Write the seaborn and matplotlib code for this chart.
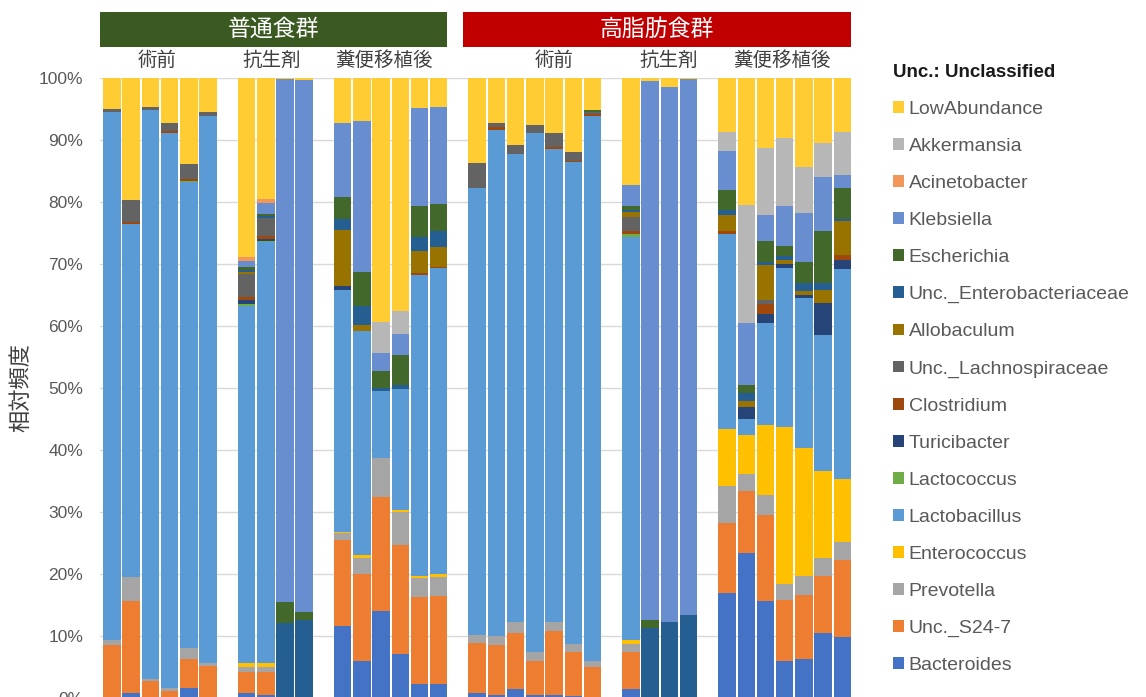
import numpy as np
import pandas as pd
import matplotlib
matplotlib.use("Agg")
import matplotlib.pyplot as plt
import matplotlib.transforms as mtransforms
from matplotlib.patches import Patch, Rectangle
import seaborn as sns

# ---------------- data ----------------
groups = ["普通食群", "高脂肪食群"]
phases = ["術前", "抗生剤", "糞便移植後"]
n_per_block = [6, 4, 6, 7, 4, 7]   # N-術前, N-抗生剤, N-糞便移植後, H-術前, H-抗生剤, H-糞便移植後

taxa = ["Bacteroides", "Unc._S24-7", "Prevotella", "Enterococcus", "Lactobacillus",
        "Lactococcus", "Turicibacter", "Clostridium", "Unc._Lachnospiraceae",
        "Allobaculum", "Unc._Enterobacteriaceae", "Escherichia", "Klebsiella",
        "Acinetobacter", "Akkermansia", "LowAbundance"]

colors = ["#4472C4", "#ED7D31", "#A5A5A5", "#FFC000", "#5B9BD5",
          "#70AD47", "#264478", "#9E480E", "#636363",
          "#997300", "#255E91", "#43682B", "#698ED0",
          "#F1975A", "#B7B7B7", "#FFCD33"]

bacteroides = [0, 0.9, 0, 0, 1.7, 0,  0.9, 0.6, 0, 0,  11.7, 6.1, 14.1, 7.1, 2.4, 2.4,
               0.9, 0.6, 1.5, 0.6, 0.6, 0.4, 0.3,  1.5, 0, 0, 0,  17.0, 23.4, 15.7, 6.1, 6.3, 10.6, 9.9]
s24_7 = [8.7, 14.8, 2.9, 1.2, 4.6, 5.3,  3.3, 3.7, 0, 0,  13.8, 14.0, 18.3, 17.7, 13.9, 14.1,
         8.1, 8.1, 9.1, 5.5, 10.2, 7.1, 4.8,  6.0, 0, 0, 0,  11.3, 10.1, 13.8, 9.8, 10.4, 9.2, 12.5]
prevotella = [0.8, 3.9, 0.3, 0.5, 1.8, 0.4,  0.8, 0.7, 0, 0,  1.1, 2.5, 6.4, 5.2, 3.1, 3.1,
              1.3, 1.4, 1.8, 1.4, 1.6, 1.3, 1.0,  1.3, 0, 0, 0,  5.9, 2.6, 3.3, 2.5, 3.1, 2.8, 2.9]
enterococcus = [0, 0, 0, 0, 0, 0,  0.8, 0.7, 0, 0,  0.3, 0.5, 0, 0.3, 0.4, 0.4,
                0, 0, 0, 0, 0, 0, 0,  0.7, 0, 0, 0,  9.3, 6.3, 11.2, 25.4, 20.5, 14.1, 10.1]
lactobacillus = [85.1, 56.9, 91.6, 89.5, 75.1, 88.2,  57.5, 67.8, 0, 0,  39.0, 36.2, 10.7, 19.5, 48.5, 49.4,
                 71.9, 81.5, 75.3, 83.6, 76.1, 77.7, 87.7,  64.8, 0, 0, 0,  31.3, 2.6, 16.5, 25.6, 24.2, 21.9, 33.8]
lactococcus = [0, 0, 0, 0, 0.2, 0,  0.3, 0.2, 0, 0,  0, 0, 0, 0, 0, 0,
               0, 0, 0, 0, 0, 0, 0,  0.5, 0, 0, 0,  0, 0, 0, 0, 0, 0, 0]
turicibacter = [0, 0, 0, 0, 0, 0,  0.6, 0.3, 0, 0,  0.5, 0, 0, 0, 0, 0,
                0, 0, 0, 0, 0, 0, 0,  0, 0, 0, 0,  0, 2.0, 1.4, 0.7, 0.5, 5.1, 1.4]
clostridium = [0, 0.3, 0, 0.2, 0.4, 0,  0.5, 0.5, 0, 0,  0, 0, 0, 0, 0.3, 0.2,
               0, 0.5, 0, 0, 0.3, 0.2, 0.4,  0.5, 0, 0, 0,  0.5, 0, 1.6, 0, 0, 0, 0.8]
unc_lachno = [0.4, 3.5, 0.5, 1.4, 2.3, 0.7,  3.7, 2.9, 0, 0,  0, 0, 0, 0, 0, 0,
              4.1, 0.6, 1.5, 1.4, 2.3, 1.3, 0.4,  2.3, 0, 0, 0,  0, 0, 0.8, 0, 0, 0, 0]
allobaculum = [0, 0, 0, 0, 0, 0,  0.4, 0, 0, 0,  9.1, 0.9, 0, 0, 3.5, 3.1,
               0, 0, 0, 0, 0, 0, 0,  0.8, 0, 0, 0,  2.6, 1.0, 5.6, 0.5, 0.6, 2.1, 5.6]
unc_entero = [0, 0, 0, 0, 0, 0,  0.3, 0.3, 12.2, 12.6,  1.7, 3.1, 0.5, 0.8, 2.2, 2.6,
              0, 0, 0, 0, 0, 0, 0,  0.3, 11.4, 12.4, 13.5,  0.9, 1.2, 0.4, 0.7, 1.3, 1.1, 0.2]
escherichia = [0, 0, 0, 0, 0, 0,  0.4, 0.4, 3.4, 1.4,  3.7, 5.5, 2.7, 4.7, 5.0, 4.4,
               0, 0, 0, 0, 0, 0, 0.3,  0.7, 1.3, 0, 0,  3.1, 1.3, 3.5, 1.6, 3.4, 8.4, 5.0]
klebsiella = [0, 0, 0, 0, 0, 0,  1.0, 1.7, 84.2, 85.6,  11.9, 24.3, 3.0, 3.5, 15.8, 15.6,
              0, 0, 0, 0, 0, 0, 0,  3.3, 86.8, 86.1, 86.3,  6.3, 10.0, 4.1, 6.4, 8.0, 8.7, 2.1]
acinetobacter = [0, 0, 0, 0, 0, 0,  0.6, 0.7, 0, 0,  0, 0, 0, 0, 0, 0,
                 0, 0, 0, 0, 0, 0, 0,  0, 0, 0, 0,  0, 0, 0, 0, 0, 0, 0]
akkermansia = [0, 0, 0, 0, 0, 0,  0, 0, 0, 0,  0, 0, 4.9, 3.7, 0, 0,
               0, 0, 0, 0, 0, 0, 0,  0, 0, 0, 0,  3.1, 19.0, 10.8, 11.0, 7.3, 5.6, 7.0]
low_abundance = [5.0, 19.7, 4.7, 7.2, 13.9, 5.4,  28.9, 19.5, 0.2, 0.4,  7.2, 6.9, 39.4, 37.5, 4.9, 4.7,
                 13.7, 7.3, 10.8, 7.5, 8.9, 12.0, 5.1,  17.3, 0.5, 1.5, 0.2,  8.7, 20.5, 11.3, 9.7, 14.4, 10.4, 8.7]

values = [bacteroides, s24_7, prevotella, enterococcus, lactobacillus, lactococcus,
          turicibacter, clostridium, unc_lachno, allobaculum, unc_entero, escherichia,
          klebsiella, acinetobacter, akkermansia, low_abundance]

# ---------------- sample names & slot order ----------------
block_names = [(g, p) for g in groups for p in phases]
samples, order = [], []
for bi, ((g, p), n) in enumerate(zip(block_names, n_per_block)):
    if bi > 0:
        order.append("gap%d" % bi)
    for i in range(n):
        name = "%s-%s-%d" % (g, p, i + 1)
        samples.append(name)
        order.append(name)

wide = pd.DataFrame(dict(zip(taxa, values)), index=samples)
cum = wide.cumsum(axis=1)

# ---------------- figure ----------------
sns.set_theme(style="white")
plt.rcParams["font.family"] = ["Liberation Sans", "Noto Sans CJK JP", "DejaVu Sans"]

W, H = 1146, 697
fig = plt.figure(figsize=(W / 100, H / 100), dpi=100)
ax = fig.add_axes([100 / W, -1.5 / H, 751 / W, 620.5 / H])

for t, c in reversed(list(zip(taxa, colors))):
    d = pd.DataFrame({"sample": samples, "cum": cum[t].values})
    sns.barplot(data=d, x="sample", y="cum", order=order, color=c, saturation=1,
                width=0.91, errorbar=None, linewidth=0, edgecolor="none", ax=ax)

ax.set_xlim(-0.625, 38.45)
ax.set_ylim(0, 100)
ax.set_xlabel("")
ax.set_ylabel("")
ax.set_xticks([])
yt = np.arange(0, 101, 10)
ax.set_yticks(yt)
ax.set_yticklabels(["%d%%" % v for v in yt])
ax.tick_params(axis="y", length=0, pad=12, labelsize=12.5, labelcolor="#595959")
ax.yaxis.grid(True, color="#D9D9D9", linewidth=1)
ax.set_axisbelow(True)
for s in ax.spines.values():
    s.set_visible(False)

fig.text(22 / W, 1 - 388 / H, "相対頻度", rotation=90, ha="center", va="center",
         fontsize=16, color="#404040")

# ---------------- group headers ----------------
tr = mtransforms.blended_transform_factory(ax.transData, fig.transFigure)
box_y0, box_y1 = 1 - 47 / H, 1 - 12 / H
header_spans = [(-0.625, 17.45, "#3A5A22"), (18.28, 38.44, "#C00000")]
for (x0, x1, col), g in zip(header_spans, groups):
    fig.add_artist(Rectangle((x0, box_y0), x1 - x0, box_y1 - box_y0, transform=tr,
                             facecolor=col, edgecolor="none", clip_on=False))
    fig.text((x0 + x1) / 2, (box_y0 + box_y1) / 2, g, transform=tr, ha="center", va="center",
             color="white", fontsize=16.5)

sub_x = [2.34, 8.33, 14.17, 23.0, 28.96, 34.84]
for x, (g, p) in zip(sub_x, block_names):
    fig.text(x, 1 - 61 / H, p, transform=tr, ha="center", va="center",
             color="#404040", fontsize=14)

# ---------------- legend ----------------
handles = [Patch(facecolor=c, edgecolor="none") for c in reversed(colors)]
labels = list(reversed(taxa))
leg = fig.legend(handles, labels, loc="upper left", bbox_to_anchor=(893 / W, 1 - 64 / H),
                 frameon=False, title="Unc.: Unclassified", alignment="left",
                 fontsize=14, labelcolor="#595959", handlelength=0.55, handleheight=0.55,
                 handletextpad=0.25, labelspacing=1.03, borderpad=0, borderaxespad=0,
                 title_fontproperties={"size": 13.5, "weight": "bold"})
leg.get_title().set_color("#1a1a1a")

fig.savefig("out.png", dpi=100)
